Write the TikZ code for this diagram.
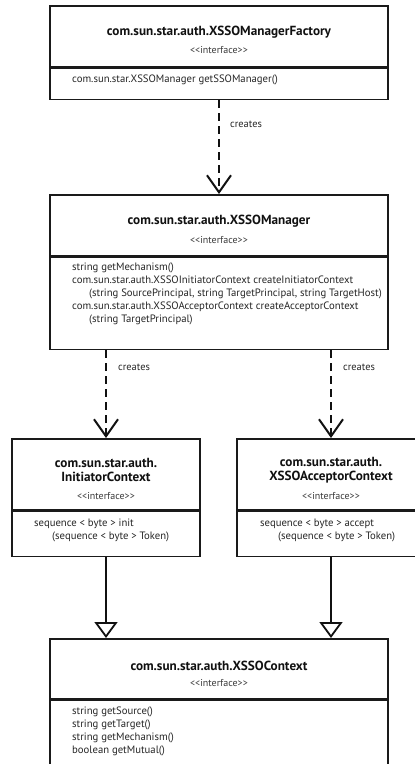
\documentclass[tikz,border=0pt]{standalone}
\usepackage{fontspec}
\setmainfont{PT Sans}
\usetikzlibrary{arrows.meta,calc,backgrounds}
\definecolor{umlborder}{HTML}{1A1A1A}
\definecolor{umltitle}{HTML}{111111}
\definecolor{umlmember}{HTML}{262626}
\definecolor{umlstereo}{HTML}{3A3A3A}
\definecolor{umlarrow}{HTML}{111111}
\tikzset{
  uml box/.style={
    rectangle, draw=umlborder, fill=white,
    line width=1.7pt, inner sep=0pt
  },
  uml title/.style={
    text=umltitle, font=\fontsize{13.2}{14.5}\selectfont\bfseries,
    align=center, inner sep=0pt
  },
  uml stereo/.style={
    text=umlstereo, font=\fontsize{10}{11}\selectfont, inner sep=0pt
  },
  uml member/.style={
    text=umlmember, font=\fontsize{10.7}{13}\selectfont,
    align=left, anchor=north west, inner sep=0pt
  },
  uml depends/.style={
    draw=umlarrow, line width=2.2pt, dash pattern=on 8pt off 5pt,
    -{Straight Barb[length=17pt,width=24pt,line width=2pt]}
  },
  uml extends/.style={
    draw=umlarrow, line width=2.2pt,
    -{Triangle[open,fill=white,length=16pt,width=23pt,line width=1.8pt]}
  },
  uml label/.style={
    text=umlmember, font=\fontsize{10.4}{12}\selectfont,
    anchor=west, inner sep=0pt
  }
}

\begin{document}
\begin{tikzpicture}[x=1pt,y=-1pt]
  \useasboundingbox (0,0) rectangle (415,764);
  \clip (0,0) rectangle (415,764);

  % Header and operation compartments of each interface.
  \node[uml box,minimum width=338pt,minimum height=61pt,anchor=north] (factoryhead) at (219,5) {};
  \node[uml box,minimum width=338pt,minimum height=31pt,anchor=north] (factorybody) at (factoryhead.south) {};
  \node[uml box,minimum width=338pt,minimum height=61pt,anchor=north] (managerhead) at (219,194) {};
  \node[uml box,minimum width=338pt,minimum height=92pt,anchor=north] (managerbody) at (managerhead.south) {};
  \node[uml box,minimum width=188pt,minimum height=71pt,anchor=north] (initiatorhead) at (106,438) {};
  \node[uml box,minimum width=188pt,minimum height=45pt,anchor=north] (initiatorbody) at (initiatorhead.south) {};
  \node[uml box,minimum width=188pt,minimum height=71pt,anchor=north] (acceptorhead) at (331,438) {};
  \node[uml box,minimum width=188pt,minimum height=45pt,anchor=north] (acceptorbody) at (acceptorhead.south) {};
  \node[uml box,minimum width=338pt,minimum height=60pt,anchor=north] (contexthead) at (219,638) {};
  \node[uml box,minimum width=338pt,minimum height=90pt,anchor=north] (contextbody) at (contexthead.south) {};

  \node[uml title] (factorytitle) at (219,32) {com.sun.star.auth.XSSOManagerFactory};
  \node[uml stereo] (factorystereo) at (219,50) {<{}<interface>{}>};
  \node[uml member] (factoryops) at (72,74.5) {com.sun.star.XSSOManager getSSOManager()};

  \node[uml title] (managertitle) at (219,221) {com.sun.star.auth.XSSOManager};
  \node[uml stereo] (managerstereo) at (219,240) {<{}<interface>{}>};
  \node[uml member] (managerops) at (72,262.5) {string getMechanism()\\
    com.sun.star.auth.XSSOInitiatorContext createInitiatorContext\\
    \hspace*{17pt}(string SourcePrincipal, string TargetPrincipal, string TargetHost)\\
    com.sun.star.auth.XSSOAcceptorContext createAcceptorContext\\
    \hspace*{17pt}(string TargetPrincipal)};

  \node[uml title] (initiatortitle) at (106,470) {com.sun.star.auth.\\InitiatorContext};
  \node[uml stereo] (initiatorstereo) at (106,496) {<{}<interface>{}>};
  \node[uml member] (initiatorops) at (34,518.5) {sequence < byte > init\\
    \hspace*{18pt}(sequence < byte > Token)};

  \node[uml title] (acceptortitle) at (331,470) {com.sun.star.auth.\\XSSOAcceptorContext};
  \node[uml stereo] (acceptorstereo) at (331,496) {<{}<interface>{}>};
  \node[uml member] (acceptorops) at (260,518.5) {sequence < byte > accept\\
    \hspace*{18pt}(sequence < byte > Token)};

  \node[uml title] (contexttitle) at (219,666) {com.sun.star.auth.XSSOContext};
  \node[uml stereo] (contextstereo) at (219,683) {<{}<interface>{}>};
  \node[uml member] (contextops) at (72,706.5) {string getSource()\\
    string getTarget()\\
    string getMechanism()\\
    boolean getMutual()};

  \coordinate (initiatorsrc) at (managerbody.south -| initiatorhead.north);
  \coordinate (acceptorsrc) at (managerbody.south -| acceptorhead.north);
  \coordinate (initiatordst) at (contexthead.north -| initiatorbody.south);
  \coordinate (acceptordst) at (contexthead.north -| acceptorbody.south);

  % Connections go behind the boxes so the outlines stay on top.
  \begin{scope}[on background layer]
    \draw[uml depends] (factorybody.south) -- (managerhead.north);
    \draw[uml depends] (initiatorsrc) -- (initiatorhead.north);
    \draw[uml depends] (acceptorsrc) -- (acceptorhead.north);
    \draw[uml extends] (initiatorbody.south) -- (initiatordst);
    \draw[uml extends] (acceptorbody.south) -- (acceptordst);
  \end{scope}

  \node[uml label] (factorycreates) at (230,124) {creates};
  \node[uml label] (initiatorcreates) at (118,367) {creates};
  \node[uml label] (acceptorcreates) at (343,367) {creates};
\end{tikzpicture}
\end{document}
